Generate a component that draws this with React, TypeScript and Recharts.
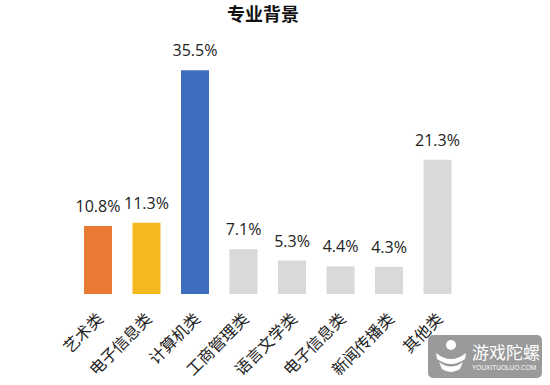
import React from "react";
import { BarChart, Bar, XAxis, YAxis, Cell, LabelList } from "recharts";

const categories = ["艺术类", "电子信息类", "计算机类", "工商管理类", "语言文学类", "电子信息类", "新闻传播类", "其他类"];
const values = [10.8, 11.3, 35.5, 7.1, 5.3, 4.4, 4.3, 21.3];
const colors = ["#E97A33", "#F5B91F", "#3F6EBF", "#D9D9D9", "#D9D9D9", "#D9D9D9", "#D9D9D9", "#D9D9D9"];

const data = categories.map((c, i) => ({ key: i, name: c, value: values[i] }));

const CJK = "'Noto Sans CJK SC', 'Noto Sans', sans-serif";

const Tick = (props: any) => {
  const { x, y, payload } = props;
  const ax = x + 6;
  const ay = y + 18;
  return (
    <text
      x={ax}
      y={ay}
      transform={`rotate(-45, ${ax}, ${ay})`}
      textAnchor="end"
      fontFamily={CJK}
      fontSize={16}
      fill="#222"
    >
      {categories[payload.value]}
    </text>
  );
};

export default function App() {
  return (
    <div style={{ position: "absolute", left: 0, top: 0, width: 550, height: 385, background: "#fff" }}>
      <svg width={550} height={30} style={{ position: "absolute", left: 0, top: 0 }}>
        <text
          x={263}
          y={21}
          textAnchor="middle"
          fontFamily={CJK}
          fontWeight={700}
          fontSize={18}
          fill="#111"
        >
          专业背景
        </text>
      </svg>
      <BarChart
        width={550}
        height={385}
        data={data}
        margin={{ top: 42, right: 88, left: 74, bottom: 0 }}
      >
        <XAxis
          dataKey="key"
          type="category"
          axisLine={false}
          tickLine={false}
          height={91}
          interval={0}
          tick={<Tick />}
        />
        <YAxis hide domain={[0, 40]} />
        <Bar dataKey="value" barSize={28} isAnimationActive={false}>
          {data.map((d, i) => (
            <Cell key={i} fill={colors[i]} />
          ))}
          <LabelList
            dataKey="value"
            position="top"
            offset={14}
            formatter={(v: any) => `${v}%`}
            style={{ fontFamily: "'Open Sans', sans-serif", fontSize: 16, fill: "#222" }}
          />
        </Bar>
      </BarChart>
      <div
        style={{
          position: "absolute",
          left: 428,
          top: 335,
          width: 114,
          height: 43,
          borderRadius: 5,
          background: "#9a9a9a",
          overflow: "hidden",
        }}
      >
        <svg width={40} height={43} style={{ position: "absolute", left: 4, top: 0 }}>
          <circle cx={19} cy={10} r={5} fill="#fff" />
          <path d="M4 18 Q19 30 34 18 L33 24 Q19 34 5 24 Z" fill="#fff" />
          <path d="M7 27 Q19 36 31 27 L28 34 Q19 40 10 34 Z" fill="#fff" />
        </svg>
        <div
          style={{
            position: "absolute",
            left: 44,
            top: 7,
            fontFamily: CJK,
            fontSize: 17,
            color: "#fff",
            lineHeight: "20px",
          }}
        >
          游戏陀螺
        </div>
        <div
          style={{
            position: "absolute",
            left: 44,
            top: 29,
            fontFamily: "'Liberation Sans', sans-serif",
            fontSize: 6.5,
            color: "#fff",
            lineHeight: "8px",
          }}
        >
          YOUXITUOLUO.COM
        </div>
      </div>
    </div>
  );
}
